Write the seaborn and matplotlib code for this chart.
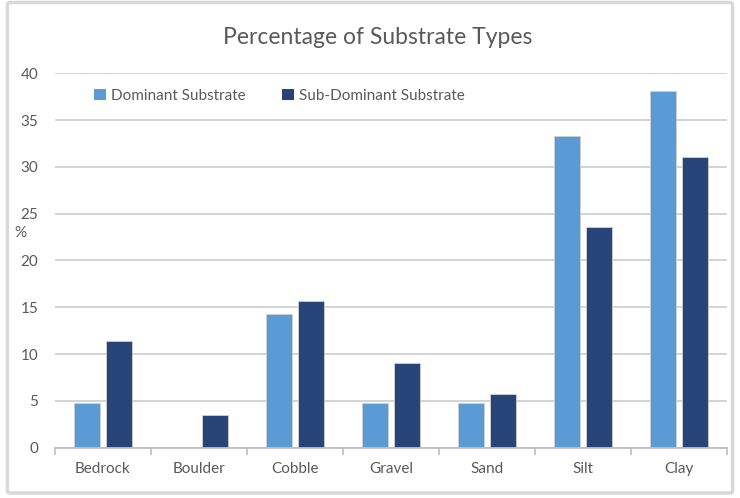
import matplotlib
matplotlib.use("Agg")
import matplotlib.pyplot as plt
from matplotlib.patches import Patch, FancyBboxPatch
import seaborn as sns
import pandas as pd

categories = ["Bedrock", "Boulder", "Cobble", "Gravel", "Sand", "Silt", "Clay"]
dominant = [4.76, 0.0, 14.29, 4.76, 4.76, 33.33, 38.10]
sub_dominant = [11.4, 3.5, 15.7, 9.1, 5.7, 23.6, 31.0]
series_names = ["Dominant Substrate", "Sub-Dominant Substrate"]
y_ticks = [0, 5, 10, 15, 20, 25, 30, 35, 40]

colors = ["#5B9BD5", "#264478"]
text_gray = "#595959"

df = pd.DataFrame({
    "Substrate": categories * 2,
    "Series": [series_names[0]] * len(categories) + [series_names[1]] * len(categories),
    "Percent": dominant + sub_dominant,
})

sns.set_theme(style="white")
plt.rcParams["font.family"] = ["Lato", "DejaVu Sans"]

fig = plt.figure(figsize=(7.4, 4.98), dpi=100)
ax = fig.add_axes([0.0743, 0.101, 0.908, 0.752])

sns.barplot(data=df, x="Substrate", y="Percent", hue="Series",
            order=categories, hue_order=series_names,
            palette=colors, width=0.66, gap=0.18, saturation=1,
            edgecolor="#d0d0d0", linewidth=0.6, ax=ax, legend=False)

ax.set_ylim(0, 40)
ax.set_xlim(-0.5, len(categories) - 0.5)
ax.set_yticks(y_ticks)
ax.set_yticklabels([str(t) for t in y_ticks])
ax.yaxis.grid(True, color="#D0D0D0", linewidth=1.3)
ax.set_axisbelow(True)
for s in ["left", "right", "top"]:
    ax.spines[s].set_visible(False)
ax.spines["bottom"].set_color("#BFBFBF")
ax.spines["bottom"].set_linewidth(1.3)

# category separators below the axis
ax.set_xticks([i - 0.5 for i in range(len(categories) + 1)], minor=True)
ax.tick_params(axis="x", which="minor", length=5, color="#BFBFBF", width=1.2, bottom=True)
ax.tick_params(axis="x", which="major", length=0, labelsize=11, labelcolor=text_gray, pad=10)
ax.tick_params(axis="y", length=0, labelsize=11, labelcolor=text_gray, pad=12)

ax.set_xlabel("")
ax.set_ylabel("%", rotation=0, fontsize=11, color=text_gray, va="center", ha="center")
ax.yaxis.set_label_coords(-0.052, 0.573)

handles = [Patch(facecolor=c, edgecolor="none") for c in colors]
ax.legend(handles, series_names, ncol=2, frameon=False, loc="upper left",
          bbox_to_anchor=(0.038, 0.995), fontsize=11, labelcolor=text_gray,
          handlelength=0.75, handleheight=0.75, handletextpad=0.35,
          columnspacing=2.4)

fig.text(0.511, 0.925, "Percentage of Substrate Types", ha="center", va="center",
         fontsize=16.5, color=text_gray)

# outer chart frame
frame = FancyBboxPatch((0.01, 0.01), 0.98, 0.985, boxstyle="round,pad=0,rounding_size=0.004",
                       transform=fig.transFigure, fill=False, edgecolor="#D9D9D9",
                       linewidth=2.5)
fig.patches.append(frame)

fig.savefig("out.png", dpi=100)
